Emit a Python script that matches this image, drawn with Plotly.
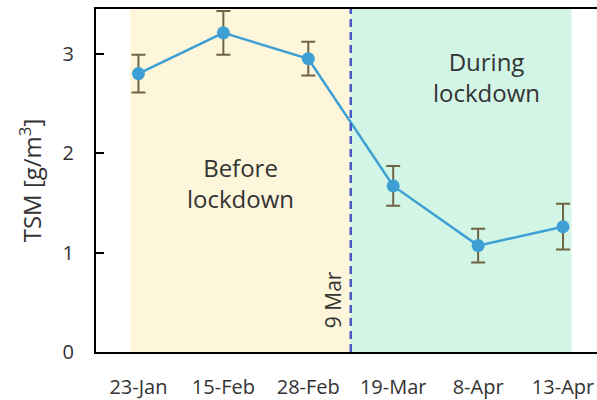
import plotly.graph_objects as go

categories = ["23-Jan", "15-Feb", "28-Feb", "19-Mar", "8-Apr", "13-Apr"]
tsm = [2.80, 3.21, 2.95, 1.67, 1.07, 1.26]
tsm_err = [0.19, 0.22, 0.17, 0.20, 0.17, 0.23]
y_ticks = [0, 1, 2, 3]

FONT = "Open Sans"
TXT = "#333333"

fig = go.Figure()
fig.add_trace(go.Scatter(
    x=list(range(len(categories))), y=tsm,
    mode="lines+markers",
    line=dict(color="#3d9fd3", width=2.5),
    marker=dict(color="#3d9fd3", size=13),
    error_y=dict(type="data", array=tsm_err, visible=True,
                 color="#6e6443", thickness=2, width=7),
    showlegend=False,
))

# shaded periods
fig.add_shape(type="rect", xref="x", yref="paper", x0=-0.1, x1=2.5, y0=0, y1=1,
              fillcolor="#fdf6da", line_width=0, layer="below")
fig.add_shape(type="rect", xref="x", yref="paper", x0=2.5, x1=5.1, y0=0, y1=1,
              fillcolor="#d2f5e6", line_width=0, layer="below")
# lockdown line
fig.add_shape(type="line", xref="x", yref="paper", x0=2.5, x1=2.5, y0=0, y1=1,
              line=dict(color="#4a58c8", width=2.5, dash="8px,5px"))

fig.add_annotation(x=1.2, y=1.7, text="Before<br>lockdown", showarrow=False,
                   font=dict(family=FONT, size=24, color=TXT))
fig.add_annotation(x=4.1, y=2.77, text="During<br>lockdown", showarrow=False,
                   font=dict(family=FONT, size=24, color=TXT))
fig.add_annotation(x=2.29, y=0.53, text="9 Mar", textangle=-90, showarrow=False,
                   font=dict(family=FONT, size=21, color=TXT))

fig.update_layout(
    width=597, height=400,
    margin=dict(l=96, r=0, t=9, b=46),
    paper_bgcolor="white", plot_bgcolor="white",
    font=dict(family=FONT, size=20, color=TXT),
    xaxis=dict(
        tickmode="array", tickvals=list(range(len(categories))), ticktext=categories,
        range=[-0.5, 5.4], showgrid=False, zeroline=False,
        showline=True, mirror=True, linecolor="black", linewidth=2,
        ticks="", tickfont=dict(size=20, color=TXT), ticklabelstandoff=16,
    ),
    yaxis=dict(
        range=[0, 3.45], tickvals=y_ticks, showgrid=False, zeroline=False,
        showline=True, linecolor="black", linewidth=2,
        ticks="inside", ticklen=8, tickwidth=2, tickcolor="black",
        tickfont=dict(size=20, color=TXT), ticklabelstandoff=16,
        title=dict(text="TSM [g/m<sup>3</sup>]", font=dict(size=24, color=TXT), standoff=14),
    ),
)

fig.write_html("out.html", config={"displayModeBar": False},
               post_script="document.body.style.margin='0';")
